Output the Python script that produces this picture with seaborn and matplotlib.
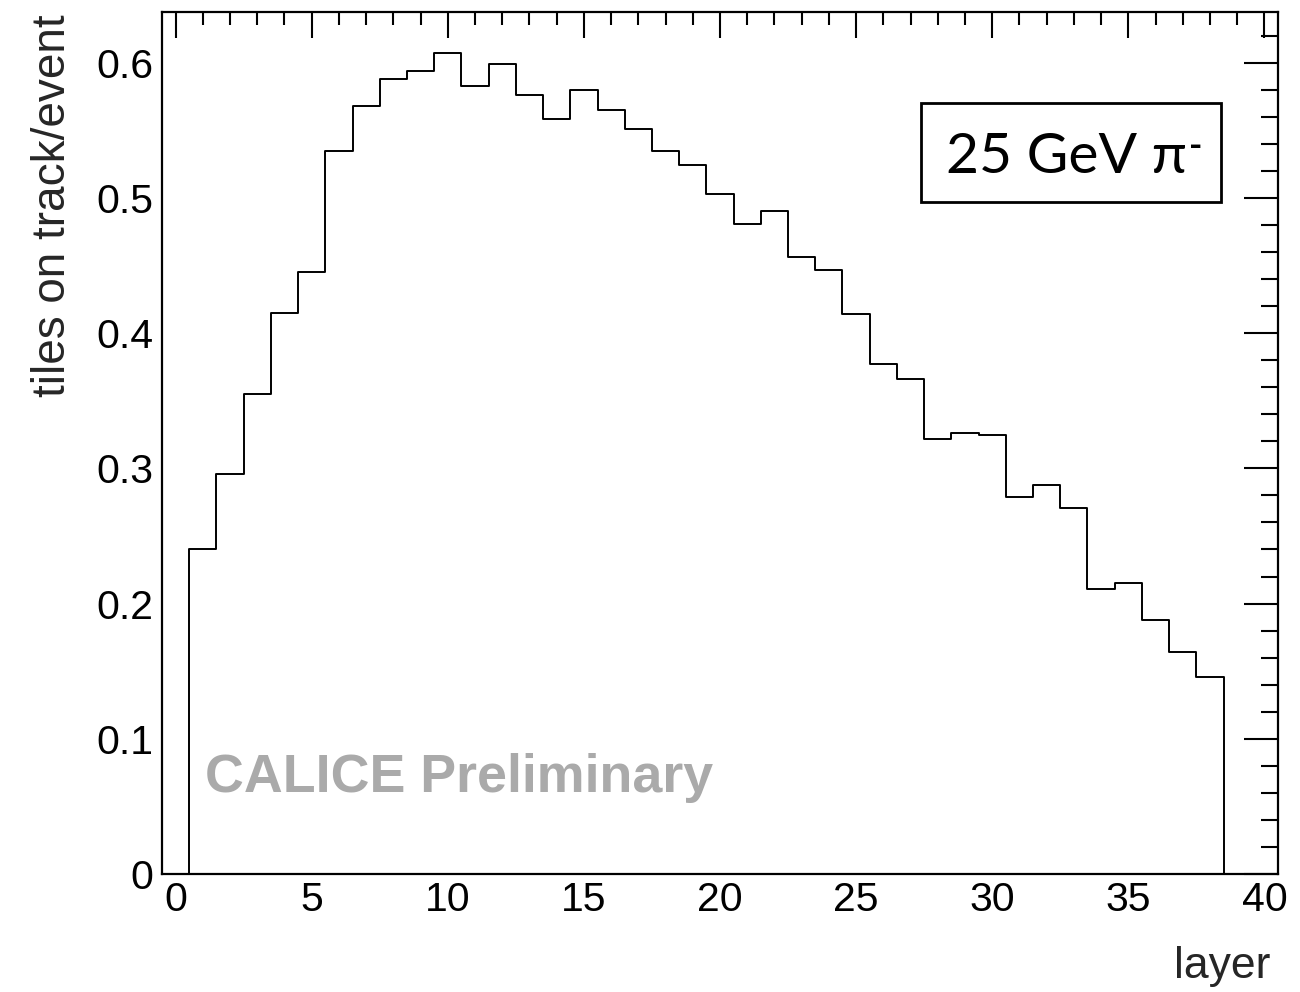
import numpy as np
import pandas as pd
import matplotlib
matplotlib.use("Agg")
import matplotlib.pyplot as plt
import seaborn as sns
from matplotlib.ticker import MultipleLocator, FixedLocator, FixedFormatter
from matplotlib.patches import Rectangle

# ---- data ----
layers = list(range(1, 39))
tiles_per_event = [0.240, 0.296, 0.355, 0.415, 0.445, 0.535, 0.568, 0.588, 0.594, 0.607,
                   0.583, 0.599, 0.576, 0.558, 0.580, 0.565, 0.551, 0.535, 0.524, 0.503,
                   0.481, 0.490, 0.456, 0.447, 0.414, 0.377, 0.366, 0.322, 0.326, 0.325,
                   0.279, 0.288, 0.271, 0.211, 0.215, 0.188, 0.164, 0.146]
x_ticks = [0, 5, 10, 15, 20, 25, 30, 35, 40]
x_tick_labels = ["0", "5", "10", "15", "20", "25", "30", "35", "40"]
y_ticks = [0.0, 0.1, 0.2, 0.3, 0.4, 0.5, 0.6]
y_tick_labels = ["0", "0.1", "0.2", "0.3", "0.4", "0.5", "0.6"]
x_label = "layer"
y_label = "tiles on track/event"
beam_label = "25 GeV \u03c0"
beam_charge = "-"
watermark = "CALICE Preliminary"

df = pd.DataFrame({"layer": layers, "tiles": tiles_per_event})

sns.set_style("white")
plt.rcParams["font.family"] = ["Liberation Sans", "DejaVu Sans"]

fig = plt.figure(figsize=(13, 9.92), dpi=100)
ax = fig.add_axes([0.1246, 0.11895, 0.8585, 0.8690])

sns.histplot(data=df, x="layer", weights="tiles", binwidth=1.0, binrange=(-0.5, 40.5),
             element="step", fill=False, color="black", linewidth=1.4, ax=ax)

ax.set_xlim(-0.5, 40.5)
ax.set_ylim(0, 0.6375)

ax.xaxis.set_major_locator(FixedLocator(x_ticks))
ax.xaxis.set_major_formatter(FixedFormatter(x_tick_labels))
ax.xaxis.set_minor_locator(MultipleLocator(1))
ax.yaxis.set_major_locator(FixedLocator(y_ticks))
ax.yaxis.set_major_formatter(FixedFormatter(y_tick_labels))
ax.yaxis.set_minor_locator(MultipleLocator(0.02))

ax.tick_params(axis="both", which="both", direction="in", top=True, right=True,
               width=1.5, color="black", labelsize=29.5, labelcolor="black")
ax.tick_params(axis="x", which="major", length=19, pad=5)
ax.tick_params(axis="x", which="minor", length=9)
ax.tick_params(axis="y", which="major", length=24.5, pad=6)
ax.tick_params(axis="y", which="minor", length=12)

for sp in ax.spines.values():
    sp.set_visible(True)
    sp.set_color("black")
    sp.set_linewidth(1.6)

ax.set_xlabel(x_label, fontsize=32, loc="right")
ax.xaxis.set_label_coords(0.993, -0.083)
ax.set_ylabel(y_label, fontsize=33, loc="top")
ax.yaxis.set_label_coords(-0.078, 0.9975)

# beam label box
ax.add_patch(Rectangle((0.680, 0.7796), 0.269, 0.1148, transform=ax.transAxes,
                       fill=False, edgecolor="black", linewidth=2.0, zorder=5))
ax.text(0.7025, 0.8132, beam_label, transform=ax.transAxes, ha="left", va="baseline",
        fontsize=41, family=["Lato", "DejaVu Sans"], color="black", zorder=6)
ax.text(0.9205, 0.832, beam_charge, transform=ax.transAxes, ha="left", va="baseline",
        fontsize=26, fontweight="bold", family=["Lato", "DejaVu Sans"], color="black", zorder=6)

ax.text(0.0385, 0.0951, watermark, transform=ax.transAxes, ha="left", va="baseline",
        fontsize=38.7, fontweight="bold", color="#aaaaaa", zorder=6)

fig.savefig("out.png", dpi=100, facecolor="white")
